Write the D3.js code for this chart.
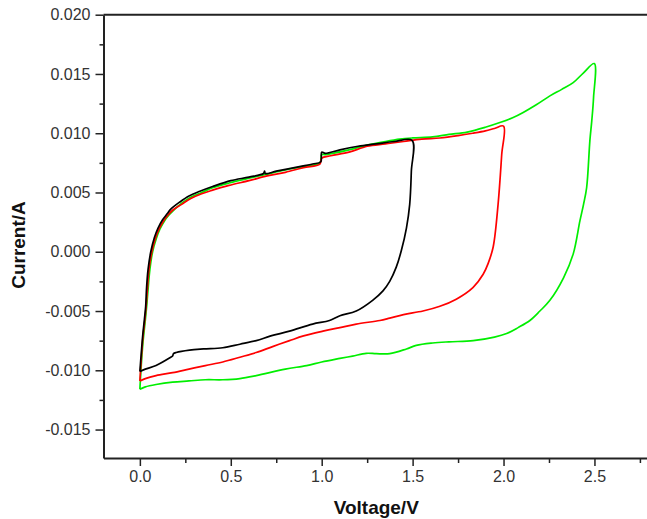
<!DOCTYPE html>
<html><head><meta charset="utf-8">
<script src="https://cdn.jsdelivr.net/npm/d3@7"></script>
<style>body{margin:0;background:#fff}svg{display:block}</style>
</head><body><svg id="c" width="647" height="519"></svg>
<script>
// Scan 1: 0 -> 1.5 V (black)
const blackCurve = [[0,-0.0101],[0.008,-0.0085],[0.016,-0.0070],[0.025,-0.0057],[0.032,-0.0046],[0.037,-0.003],[0.045,-0.0015],[0.06,0.0],[0.08,0.0012],[0.1,0.002],[0.125,0.0027],[0.15,0.0032],[0.17,0.0036],[0.22,0.0042],[0.27,0.0047],[0.33,0.0051],[0.4,0.0055],[0.5,0.006],[0.6,0.0063],[0.68,0.0066],[0.686,0.0068],[0.69,0.0066],[0.75,0.0068],[0.85,0.0071],[0.95,0.0074],[0.995,0.0076],[1.0,0.0084],[1.02,0.0083],[1.1,0.0086],[1.2,0.0089],[1.3,0.0091],[1.4,0.0093],[1.497,0.0094],
  [1.493,0.0068],[1.484,0.004],[1.466,0.002],[1.438,0.0001],[1.41,-0.0013],[1.374,-0.0025],[1.337,-0.0033],[1.28,-0.0041],[1.19,-0.005],[1.1,-0.0054],[1.043,-0.0058],[0.95,-0.0061],[0.823,-0.0067],[0.72,-0.0071],[0.64,-0.0075],[0.55,-0.0078],[0.456,-0.0081],[0.35,-0.0082],[0.273,-0.0083],[0.2,-0.0085],[0.185,-0.0086],[0.18,-0.0088],[0.17,-0.0089],[0.089,-0.0096],[0.03,-0.0099],[0,-0.0101]];
// Scan 2: 0 -> 2.0 V (red)
const redCurve = [[0,-0.0109],[0.008,-0.009],[0.017,-0.0072],[0.027,-0.0058],[0.035,-0.0045],[0.042,-0.003],[0.05,-0.0015],[0.066,0.0],[0.085,0.0011],[0.105,0.0019],[0.13,0.0026],[0.155,0.0031],[0.18,0.0035],[0.23,0.004],[0.28,0.0045],[0.34,0.0049],[0.4,0.0052],[0.49,0.0056],[0.6,0.006],[0.7,0.0064],[0.8,0.0067],[0.9,0.0071],[0.99,0.0074],[1.0,0.0079],[1.05,0.0081],[1.15,0.0084],[1.25,0.0089],[1.35,0.0091],[1.45,0.0093],[1.55,0.0095],[1.65,0.0096],[1.75,0.0098],[1.83,0.01],[1.9,0.0102],[1.95,0.0104],[2.0,0.0106],
  [1.99,0.0082],[1.97,0.004],[1.943,0.0004],[1.915,-0.001],[1.888,-0.0019],[1.833,-0.003],[1.74,-0.004],[1.65,-0.0046],[1.557,-0.005],[1.45,-0.0053],[1.374,-0.0056],[1.32,-0.0058],[1.19,-0.0061],[1.1,-0.0064],[1.007,-0.0067],[0.9,-0.0071],[0.823,-0.0075],[0.73,-0.008],[0.64,-0.0085],[0.55,-0.0089],[0.456,-0.0093],[0.36,-0.0096],[0.27,-0.0099],[0.18,-0.0102],[0.089,-0.01045],[0.03,-0.0107],[0,-0.0109]];
// Scan 3: 0 -> 2.5 V (green)
const greenCurve = [[0,-0.0116],[0.008,-0.0095],[0.018,-0.0075],[0.029,-0.0059],[0.038,-0.0045],[0.046,-0.003],[0.055,-0.0015],[0.07,0.0],[0.09,0.0011],[0.11,0.0019],[0.135,0.0026],[0.16,0.0031],[0.185,0.0035],[0.23,0.0041],[0.28,0.0046],[0.34,0.005],[0.4,0.0054],[0.49,0.0058],[0.6,0.0062],[0.686,0.0065],[0.8,0.0069],[0.9,0.0072],[0.99,0.0075],[1.0,0.0082],[1.02,0.0082],[1.15,0.0086],[1.25,0.009],[1.35,0.0093],[1.43,0.0095],[1.5,0.0096],[1.61,0.0097],[1.7,0.0099],[1.8,0.0101],[1.9,0.0105],[1.98,0.0109],[2.05,0.0113],[2.108,0.01175],[2.18,0.0124],[2.255,0.01315],[2.32,0.0137],[2.383,0.01427],[2.44,0.0151],[2.499,0.01588],
  [2.495,0.013],[2.485,0.011],[2.475,0.0094],[2.457,0.0054],[2.44,0.004],[2.42,0.0026],[2.383,-0.0002],[2.33,-0.0022],[2.255,-0.0041],[2.2,-0.005],[2.145,-0.0058],[2.08,-0.0064],[2.017,-0.0069],[1.95,-0.0072],[1.833,-0.0075],[1.7,-0.0076],[1.61,-0.0077],[1.52,-0.0079],[1.466,-0.0082],[1.374,-0.0086],[1.3,-0.0086],[1.245,-0.00857],[1.17,-0.0088],[1.1,-0.009],[1.0,-0.0093],[0.917,-0.0096],[0.8,-0.0099],[0.64,-0.01045],[0.55,-0.0107],[0.456,-0.0108],[0.36,-0.0108],[0.27,-0.0109],[0.18,-0.011],[0.089,-0.0112],[0.03,-0.0114],[0,-0.0116]];

const xTicks = [0, 0.5, 1.0, 1.5, 2.0, 2.5];
const xMinorTicks = [0.25, 0.75, 1.25, 1.75, 2.25, 2.75];
const yTicks = [0.020, 0.015, 0.010, 0.005, 0.000, -0.005, -0.010, -0.015];
const yMinorTicks = [0.0175, 0.0125, 0.0075, 0.0025, -0.0025, -0.0075, -0.0125];
const xTitle = "Voltage/V";
const yTitle = "Current/A";

const svg = d3.select("#c");
const L = 103.5, R = 649, T = 14.7, B = 458;
const x = d3.scaleLinear().domain([-0.2, 2.8]).range([L, R]);
const y = d3.scaleLinear().domain([-0.0174, 0.020]).range([B, T]);

const axisColor = "#222";
const font = "'Liberation Sans', Arial, sans-serif";
const fmt = f => d => d3.format(f)(d).replace("\u2212", "-");

// minor ticks
svg.append("g").attr("transform", `translate(0,${B})`)
  .call(d3.axisBottom(x).tickValues(xMinorTicks).tickSize(5).tickFormat(""))
  .call(g => g.select(".domain").remove());
svg.append("g").attr("transform", `translate(${L},0)`)
  .call(d3.axisLeft(y).tickValues(yMinorTicks).tickSize(4).tickFormat(""))
  .call(g => g.select(".domain").remove());

svg.append("g").attr("transform", `translate(0,${B})`)
  .call(d3.axisBottom(x).tickValues(xTicks).tickSize(8).tickSizeOuter(0).tickPadding(5).tickFormat(fmt(".1f")));
svg.append("g").attr("transform", `translate(${L},0)`)
  .call(d3.axisLeft(y).tickValues(yTicks).tickSize(8).tickSizeOuter(0).tickPadding(5).tickFormat(fmt(".3f")));

svg.selectAll(".tick line").attr("stroke", axisColor).attr("stroke-width", 1.5);
svg.selectAll(".domain").attr("stroke", axisColor).attr("stroke-width", 2);
svg.selectAll(".tick text").attr("font-family", font).attr("font-size", 16).attr("fill", "#333");

// top frame line
svg.append("line").attr("x1", L).attr("x2", R).attr("y1", T).attr("y2", T)
  .attr("stroke", axisColor).attr("stroke-width", 2);

const line = d3.line().x(d => x(d[0])).y(d => y(d[1])).curve(d3.curveCatmullRom.alpha(0.5));
const series = [
  {data: greenCurve, color: "#00ee00"},
  {data: redCurve, color: "#ff0000"},
  {data: blackCurve, color: "#000000"}
];
svg.append("g").selectAll("path").data(series).join("path")
  .attr("d", d => line(d.data))
  .attr("fill", "none").attr("stroke", d => d.color)
  .attr("stroke-width", 1.7).attr("stroke-linejoin", "round");

svg.append("text").attr("x", (L + R) / 2).attr("y", 514)
  .attr("text-anchor", "middle").attr("font-family", font).attr("font-weight", "bold")
  .attr("font-size", 19).attr("fill", "#111").text(xTitle);
svg.append("text").attr("transform", "translate(25,245) rotate(-90)")
  .attr("text-anchor", "middle").attr("font-family", font).attr("font-weight", "bold")
  .attr("font-size", 19).attr("fill", "#111").text(yTitle);
</script></body></html>
